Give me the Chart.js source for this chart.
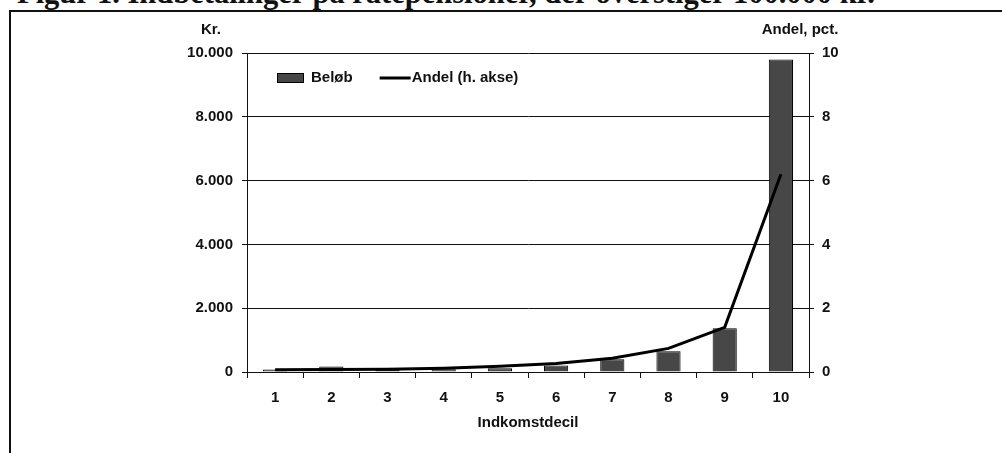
<!DOCTYPE html>
<html>
<head>
<meta charset="utf-8">
<script src="https://cdn.jsdelivr.net/npm/chart.js@4.4.0/dist/chart.umd.min.js"></script>
<style>
  body { margin: 0; background: #fff; }
  #wrap { position: relative; width: 1002px; height: 453px; overflow: hidden; }
  #title {
    position: absolute; left: 17px; top: -16px; white-space: nowrap;
    font: bold 26px "Liberation Serif", "DejaVu Serif", serif; line-height: 1; color: #111;
  }
  #frame {
    position: absolute; left: 9px; top: 10px; width: 1010px; height: 460px;
    border-left: 2px solid #111; border-top: 2px solid #111;
  }
  #chart { position: absolute; left: 0; top: 0; }
</style>
</head>
<body>
<div id="wrap">
  <div id="title">Figur 1. Indbetalinger på ratepensioner, der overstiger 100.000 kr.</div>
  <div id="frame"></div>
  <canvas id="chart" width="1002" height="453"></canvas>
</div>
<script>
// Data
const deciler = ['1', '2', '3', '4', '5', '6', '7', '8', '9', '10'];
const beloeb = [80, 170, 60, 90, 120, 200, 400, 650, 1370, 9800];      // kr.
const andel = [0.07, 0.08, 0.09, 0.12, 0.18, 0.27, 0.43, 0.74, 1.4, 6.2]; // pct.

const FONT = '"Liberation Sans", Arial, sans-serif';
const INK = '#111';

function tusind(v) {
    return String(v).replace(/\B(?=(\d{3})+(?!\d))/g, '.');
}

// Titel tilpasses bredden i originalen (kun nederste del er synlig)
(function fitTitle() {
    const el = document.getElementById('title');
    const w = el.getBoundingClientRect().width;
    const size = 26 * 858 / w;
    el.style.fontSize = size + 'px';
    el.style.top = (4 - 0.8375 * size) + 'px';
})();

const extras = {
    id: 'extras',
    afterDraw(chart) {
        const { ctx, chartArea } = chart;
        ctx.save();
        ctx.fillStyle = INK;
        ctx.textBaseline = 'middle';
        ctx.font = 'bold 15px ' + FONT;
        ctx.textAlign = 'center';
        ctx.fillText('Kr.', chartArea.left - 36, 30);
        ctx.fillText('Andel, pct.', chartArea.right - 9, 30);

        // legende inde i plotområdet
        ctx.textAlign = 'left';
        const y = chartArea.top + 25;
        let x = chartArea.left + 30;
        chart.data.datasets.forEach(ds => {
            if (ds.type === 'line') {
                ctx.strokeStyle = ds.borderColor;
                ctx.lineWidth = 3;
                ctx.beginPath();
                ctx.moveTo(x, y);
                ctx.lineTo(x + 31, y);
                ctx.stroke();
                x += 32;
            } else {
                ctx.fillStyle = ds.backgroundColor;
                ctx.fillRect(x, y - 5, 27, 10);
                ctx.strokeStyle = ds.borderColor;
                ctx.lineWidth = 1;
                ctx.strokeRect(x + 0.5, y - 4.5, 26, 9);
                x += 34;
            }
            ctx.fillStyle = INK;
            ctx.fillText(ds.label, x, y);
            x += ctx.measureText(ds.label).width + 27;
        });
        ctx.restore();
    }
};

new Chart(document.getElementById('chart'), {
    data: {
        labels: deciler,
        datasets: [
            {
                type: 'bar',
                label: 'Beløb',
                data: beloeb,
                yAxisID: 'y',
                backgroundColor: '#474747',
                borderColor: '#000',
                borderWidth: 1,
                categoryPercentage: 1,
                barPercentage: 0.43,
                order: 1
            },
            {
                type: 'line',
                label: 'Andel (h. akse)',
                data: andel,
                yAxisID: 'y1',
                borderColor: '#000',
                borderWidth: 3,
                pointRadius: 0,
                tension: 0,
                order: 0
            }
        ]
    },
    options: {
        responsive: false,
        animation: false,
        devicePixelRatio: 1,
        layout: { padding: { top: 53, left: 0, right: 0, bottom: 0 } },
        plugins: { legend: { display: false }, tooltip: { enabled: false } },
        scales: {
            x: {
                offset: true,
                grid: { offset: true, drawOnChartArea: false, drawTicks: true, tickLength: 6, color: '#111' },
                border: { display: true, color: '#111', width: 1 },
                ticks: { color: INK, font: { family: FONT, size: 15, weight: 'bold' }, padding: 11 },
                title: {
                    display: true, text: 'Indkomstdecil', color: INK,
                    font: { family: FONT, size: 15, weight: 'bold' },
                    padding: { top: 0, bottom: 21 }
                },
                afterFit(scale) { scale.height = 81; }
            },
            y: {
                position: 'left',
                min: 0, max: 10000,
                ticks: { stepSize: 2000, color: INK, padding: 9,
                         font: { family: FONT, size: 15, weight: 'bold' },
                         callback: v => tusind(v) },
                grid: { color: '#111', lineWidth: 1, tickLength: 5 },
                border: { display: true, color: '#111', width: 1 },
                afterFit(scale) { scale.width = 247; }
            },
            y1: {
                position: 'right',
                min: 0, max: 10,
                ticks: { stepSize: 2, color: INK, padding: 8,
                         font: { family: FONT, size: 15, weight: 'bold' } },
                grid: { drawOnChartArea: false, color: '#111', tickLength: 5 },
                border: { display: true, color: '#111', width: 1 },
                afterFit(scale) { scale.width = 193; }
            }
        }
    },
    plugins: [extras]
});
</script>
</body>
</html>
